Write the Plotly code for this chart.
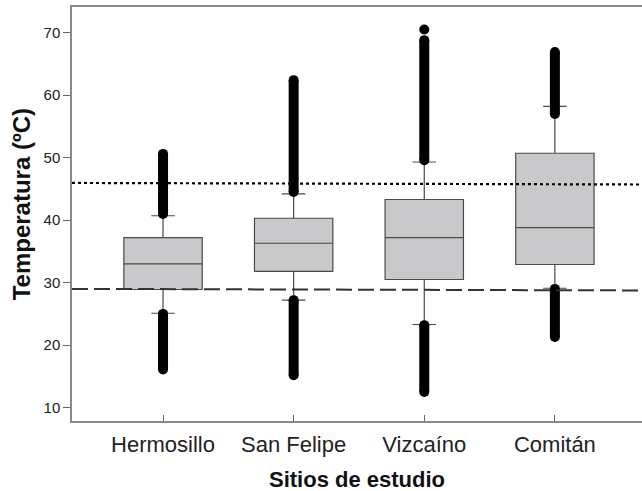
import plotly.graph_objects as go

# ---- data ----
sites = ["Hermosillo", "San Felipe", "Vizcaíno", "Comitán"]
q1 = [28.9, 31.8, 30.5, 32.9]
median = [33.0, 36.3, 37.2, 38.8]
q3 = [37.2, 40.3, 43.3, 50.7]
lower_whisker = [25.1, 27.2, 23.3, 29.1]
upper_whisker = [40.7, 44.2, 49.3, 58.2]
# outlier clouds (dense points -> continuous bands): start/end values
out_high_start = [41.0, 44.5, 49.6, 57.0]
out_high_end = [50.6, 62.4, 68.8, 66.9]
out_low_start = [25.0, 27.2, 23.2, 29.0]
out_low_end = [16.1, 15.2, 12.5, 21.3]
extra_outlier_site = ["Vizcaíno"]
extra_outlier_value = [70.5]
# reference lines (left end, right end)
dotted_line = [45.95, 45.7]
dashed_line = [29.0, 28.75]
y_ticks = [10, 20, 30, 40, 50, 60, 70]

FONT = "Liberation Sans, Arial, sans-serif"
fig = go.Figure()

fig.add_trace(go.Box(
    x=sites, q1=q1, median=median, q3=q3,
    lowerfence=lower_whisker, upperfence=upper_whisker,
    boxpoints=False, width=0.6, whiskerwidth=0.3,
    fillcolor="#c9c9cb", line=dict(color="#4a4a4a", width=1.2),
    showlegend=False, hoverinfo="skip",
))

for s, a, b in zip(sites, out_high_start, out_high_end):
    fig.add_trace(go.Scatter(
        x=[s, s], y=[a, b], mode="lines+markers",
        line=dict(color="black", width=10),
        marker=dict(color="black", size=10),
        showlegend=False, hoverinfo="skip"))
for s, a, b in zip(sites, out_low_start, out_low_end):
    fig.add_trace(go.Scatter(
        x=[s, s], y=[a, b], mode="lines+markers",
        line=dict(color="black", width=10),
        marker=dict(color="black", size=10),
        showlegend=False, hoverinfo="skip"))
fig.add_trace(go.Scatter(
    x=extra_outlier_site, y=extra_outlier_value, mode="markers",
    marker=dict(color="black", size=10), showlegend=False, hoverinfo="skip"))

fig.add_shape(type="line", xref="paper", yref="y", x0=0, x1=1,
              y0=dotted_line[0], y1=dotted_line[1],
              line=dict(color="black", width=2.2, dash="dot"), layer="above")
fig.add_shape(type="line", xref="paper", yref="y", x0=0, x1=1,
              y0=dashed_line[0], y1=dashed_line[1],
              line=dict(color="#333333", width=2, dash="16px,6px"), layer="above")

fig.add_annotation(text="<b>Temperatura (ºC)</b>", xref="paper", yref="paper",
                   x=(21 - 72) / 570, y=(420.7 - 204) / 414, textangle=-90,
                   showarrow=False, xanchor="center", yanchor="middle",
                   font=dict(family=FONT, size=24, color="#111111"))
fig.add_annotation(text="<b>Sitios de estudio</b>", xref="paper", yref="paper",
                   x=0.5, y=(420.7 - 479) / 414,
                   showarrow=False, xanchor="center", yanchor="middle",
                   font=dict(family=FONT, size=22, color="#111111"))

fig.update_layout(
    width=642, height=491,
    margin=dict(l=72, r=0, t=7, b=70, pad=0),
    paper_bgcolor="white", plot_bgcolor="white",
    font=dict(family=FONT, color="#222222"),
    xaxis=dict(type="category", categoryorder="array", categoryarray=sites,
               range=[-0.697, 3.667], showgrid=False, zeroline=False,
               showline=True, linecolor="#8a8a8a", linewidth=1.5, mirror=True,
               ticks="inside", ticklen=6, tickcolor="#666666", tickwidth=1,
               ticklabelstandoff=3,
               tickfont=dict(family=FONT, size=22, color="#222222")),
    yaxis=dict(range=[7.86, 74.1], tickvals=y_ticks, showgrid=False, zeroline=False,
               showline=True, linecolor="#8a8a8a", linewidth=1.5,
               ticks="outside", ticklen=7, tickcolor="#666666", tickwidth=1,
               tickfont=dict(family=FONT, size=15, color="#222222")),
)

fig.write_html("out.html")
